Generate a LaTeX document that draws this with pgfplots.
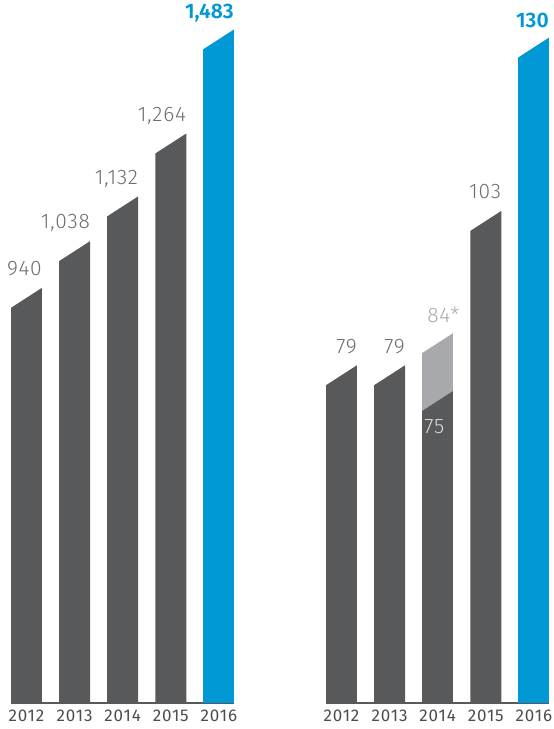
\documentclass[border=0pt]{standalone}
\usepackage{pgfplots}
\pgfplotsset{compat=1.18}
\usepackage{pgfplotstable}
\usepackage{fontspec}
\setmainfont{Fira Sans}[UprightFont=* Light, UprightFeatures={LetterSpace=4}, BoldFont=* SemiBold]
\newfontfamily\tickfont{Fira Sans}[LetterSpace=5]

\definecolor{bardark}{HTML}{58595B}
\definecolor{barblue}{HTML}{0099D5}
\definecolor{barlight}{HTML}{A7A9AC}
\definecolor{labgray}{HTML}{6D6E71}
\definecolor{tickcol}{HTML}{4D4D4F}

% top-left corner cut that gives the bars their slanted top
\pgfdeclareplotmark{slantcut}{%
  \pgfpathmoveto{\pgfqpoint{-16.5pt}{1pt}}%
  \pgfpathlineto{\pgfqpoint{16.5pt}{1pt}}%
  \pgfpathlineto{\pgfqpoint{16.5pt}{0.645pt}}%
  \pgfpathlineto{\pgfqpoint{-16.5pt}{-20.645pt}}%
  \pgfpathclose
  \pgfusepathqfill}
% same cut, kept inside the bar (for the split 2014 bar)
\pgfdeclareplotmark{slantcutin}{%
  \pgfpathmoveto{\pgfqpoint{-15.5pt}{1pt}}%
  \pgfpathlineto{\pgfqpoint{15.5pt}{1pt}}%
  \pgfpathlineto{\pgfqpoint{15.5pt}{0pt}}%
  \pgfpathlineto{\pgfqpoint{-15.5pt}{-20pt}}%
  \pgfpathclose
  \pgfusepathqfill}

\pgfplotsset{
  panel/.style={
    scale only axis, width=223.4pt, anchor=south west,
    xmin=-0.322, xmax=4.322,
    axis x line*=bottom, axis y line=none,
    x axis line style={-, draw=bardark, line width=1.3pt},
    xtick={0,...,4}, xticklabels={2012,2013,2014,2015,2016},
    xtick style={draw=none}, ytick=\empty,
    xticklabel style={font=\tickfont\fontsize{17}{20}\selectfont, text=tickcol, yshift=-3pt},
    /pgf/number format/1000 sep={,},
    /pgf/number format/assume math mode=true,
  },
  slantbar/.style={ybar, bar width=31pt, bar shift=0pt, draw=none, fill=#1,
    mark=slantcut, mark options={fill=white, draw=none}},
  barlabel/.style={nodes near coords, every node near coord/.append style={
    anchor=base east, inner sep=0pt, xshift=15.5pt, yshift=12pt,
    font=\fontsize{21}{25}\selectfont, text=labgray}},
  bluelabel/.style={nodes near coords, every node near coord/.append style={
    anchor=base east, inner sep=0pt, xshift=15pt, yshift=10pt,
    font=\fontsize{21}{25}\selectfont\bfseries, text=barblue}},
}

\pgfplotstableread{
x v
0 940
1 1038
2 1132
3 1264
}\leftdark
\pgfplotstableread{
x v
4 1483
}\leftblue

\pgfplotstableread{
x v
0 79
1 79
3 103
}\rightdark
\pgfplotstableread{
x v
2 84
}\rightlight
\pgfplotstableread{
x v
2 75
}\rightsplit
\pgfplotstableread{
x v
4 130
}\rightblue

\begin{document}
\begin{tikzpicture}
\useasboundingbox (0,0) rectangle (554pt,729pt);

\begin{axis}[panel, at={(11pt,26pt)}, height=680.2pt, ymin=68, ymax=1496]
\addplot[slantbar=bardark, barlabel] table[x=x, y=v] {\leftdark};
\addplot[slantbar=barblue, bluelabel] table[x=x, y=v] {\leftblue};
\end{axis}

\begin{axis}[panel, at={(326pt,26pt)}, height=675.5pt, ymin=26.44, ymax=131.5]
\addplot[slantbar=bardark, barlabel] table[x=x, y=v] {\rightdark};
% 2014: restated value (light) behind the reported one
\addplot[slantbar=barlight, nodes near coords={\pgfmathprintnumber{\pgfplotspointmeta}*},
  every node near coord/.append style={anchor=base east, inner sep=0pt, xshift=22pt, yshift=10pt,
    font=\fontsize{21}{25}\selectfont, text=barlight}] table[x=x, y=v] {\rightlight};
\addplot[slantbar=bardark, mark=slantcutin, mark options={fill=barlight}, nodes near coords,
  every node near coord/.append style={anchor=north west, inner sep=0pt, xshift=-13.5pt, yshift=-29pt,
    font=\fontsize{21}{25}\selectfont, text=barlight!45!white}] table[x=x, y=v] {\rightsplit};
\addplot[slantbar=barblue, bluelabel] table[x=x, y=v] {\rightblue};
\end{axis}
\end{tikzpicture}
\end{document}
